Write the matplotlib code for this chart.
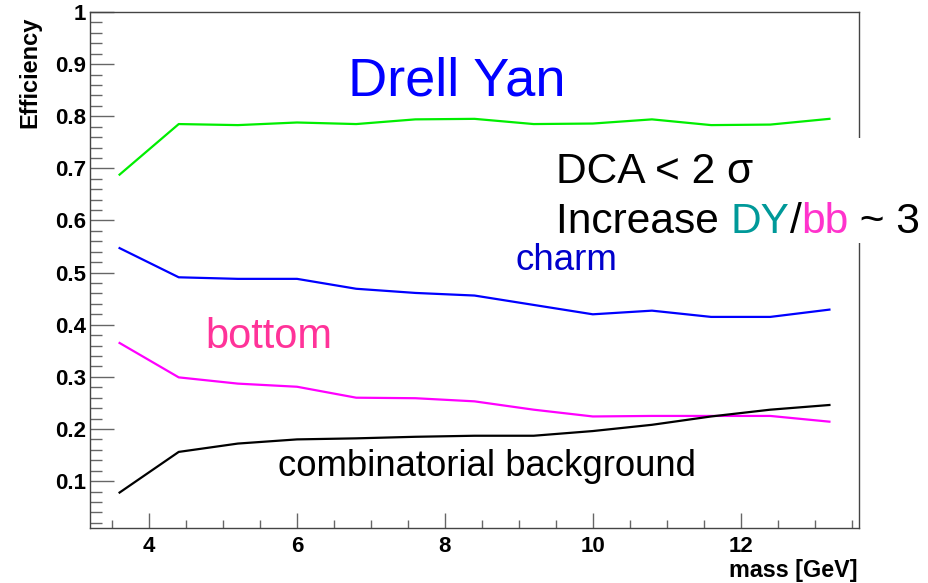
import numpy as np
import matplotlib
matplotlib.use("Agg")
import matplotlib.pyplot as plt
from matplotlib.ticker import MultipleLocator, FuncFormatter
from matplotlib.patches import Rectangle

plt.rcParams['font.family'] = ['Liberation Sans', 'DejaVu Sans']

# bin centres (GeV) and efficiencies
mass = [3.6, 4.4, 5.2, 6.0, 6.8, 7.6, 8.4, 9.2, 10.0, 10.8, 11.6, 12.4, 13.2]
eff_dy = [0.688, 0.785, 0.783, 0.788, 0.785, 0.794, 0.795, 0.785, 0.786, 0.794, 0.783, 0.784, 0.795]
eff_charm = [0.547, 0.491, 0.488, 0.488, 0.469, 0.461, 0.456, 0.438, 0.420, 0.427, 0.415, 0.415, 0.429]
eff_bottom = [0.365, 0.299, 0.287, 0.281, 0.260, 0.259, 0.253, 0.237, 0.224, 0.225, 0.225, 0.225, 0.214]
eff_comb = [0.078, 0.156, 0.172, 0.180, 0.182, 0.185, 0.187, 0.187, 0.196, 0.208, 0.224, 0.237, 0.246]

W, H = 929, 583
fig = plt.figure(figsize=(W / 100, H / 100), dpi=100)
ax = fig.add_axes([90 / W, 1 - 528 / H, (859 - 90) / W, (528 - 12) / H])

ax.plot(mass, eff_dy, color='#00ee00', lw=1.6)
ax.plot(mass, eff_charm, color='#0000ff', lw=1.6)
ax.plot(mass, eff_bottom, color='#ff00ff', lw=1.6)
ax.plot(mass, eff_comb, color='black', lw=1.6)

ax.set_xlim(3.2, 13.6)
ax.set_ylim(0.01, 1.0)
ax.xaxis.set_major_locator(MultipleLocator(2))
ax.xaxis.set_minor_locator(MultipleLocator(0.5))
ax.yaxis.set_major_locator(MultipleLocator(0.1))
ax.yaxis.set_minor_locator(MultipleLocator(0.02))
ax.yaxis.set_major_formatter(FuncFormatter(lambda v, p: '1' if abs(v - 1) < 1e-6 else ('%.1f' % v if v > 0.05 else '')))
ax.tick_params(axis='y', which='major', direction='in', length=17, width=1, color='#666666', pad=3, labelsize=16)
ax.tick_params(axis='y', which='minor', direction='in', length=8.5, width=1, color='#666666')
ax.tick_params(axis='x', which='major', direction='in', length=11, width=1, color='#666666', pad=6, labelsize=16)
ax.tick_params(axis='x', which='minor', direction='in', length=5.5, width=1, color='#666666')
for lab in ax.get_xticklabels() + ax.get_yticklabels():
    lab.set_fontweight('bold')
for sp in ax.spines.values():
    sp.set_color('#444444')
    sp.set_linewidth(1)

def px(x, y):
    return x / W, 1 - y / H

fig.text(*px(30, 17), 'Efficiency', rotation=90, ha='center', va='top', fontsize=17, fontweight='bold')
fig.text(*px(858, 577), 'mass [GeV]', ha='right', va='baseline', fontsize=16.8, fontweight='bold')

fig.text(*px(457, 95), 'Drell Yan', ha='center', va='baseline', fontsize=39, color='#0000ff')
fig.text(*px(516, 270), 'charm', ha='left', va='baseline', fontsize=26.5, color='#0000cc')
fig.text(*px(205, 348), 'bottom', ha='left', va='baseline', fontsize=30, color='#ff3399')
fig.text(*px(278, 476), 'combinatorial background', ha='left', va='baseline', fontsize=26.3, color='black')

# white box that hides part of the frame
fig.patches.append(Rectangle(px(545, 243), 384 / W, 105 / H, transform=fig.transFigure,
                             facecolor='white', edgecolor='none', zorder=2))
fig.text(*px(556, 183), 'DCA < 2 σ', ha='left', va='baseline', fontsize=30.6, color='black', zorder=3)

renderer = fig.canvas.get_renderer()
x0 = 556
for part, col in [('Increase ', 'black'), ('DY', '#009999'), ('/', 'black'), ('bb', '#ff33cc'), (' ~ 3', 'black')]:
    t = fig.text(*px(x0, 233), part, ha='left', va='baseline', fontsize=30.6, color=col, zorder=3)
    bb = t.get_window_extent(renderer)
    x0 += bb.width

fig.savefig('out.png', dpi=100)
